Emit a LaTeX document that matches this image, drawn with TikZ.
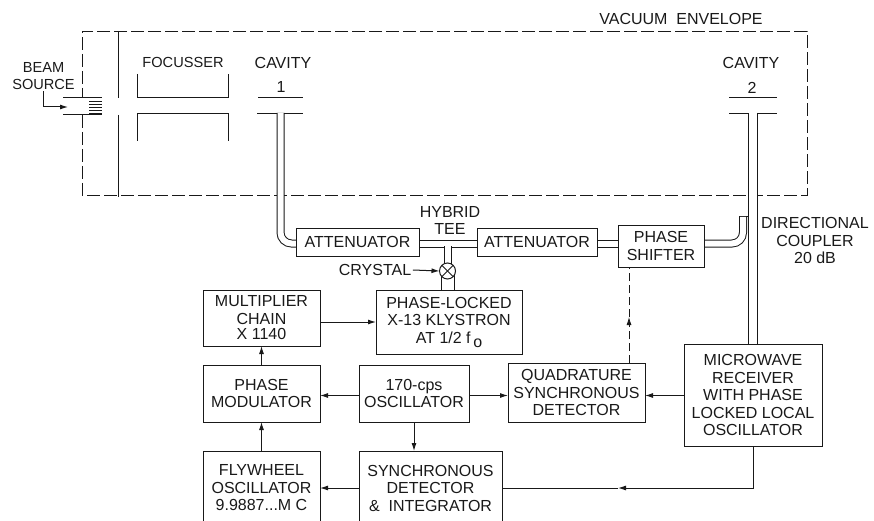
\documentclass[tikz,border=0pt]{standalone}
\usepackage{fontspec}
\setmainfont{Liberation Sans}
\usepackage{tikz}
\usetikzlibrary{arrows.meta,positioning,backgrounds}
\definecolor{ink}{RGB}{25,25,25}
\tikzset{
  block/.style={draw=ink,line width=1pt,outer sep=0pt,inner sep=1pt,align=center,text=ink},
  label/.style={inner sep=1.5pt,align=center,text=ink},
  narrow/.style={font=\fontsize{14.6}{17}\selectfont},
  wire/.style={draw=ink,line width=1pt},
  sig/.style={wire,-{Latex[length=8pt,width=5pt]}},
  guide/.style={draw=ink,line width=1pt,double=white,double distance=6pt},
}
\begin{document}
\begin{tikzpicture}[x=1pt,y=-1pt,every node/.style={font=\fontsize{16}{17.5}\selectfont}]
  \useasboundingbox (0,0) rectangle (874,521);
  \clip (0,0) rectangle (874,521);
  % junction points of the waveguide run
  \coordinate (tee) at (447.5,243.5);
  \coordinate (cav1) at (280.5,113);
  \coordinate (cav2) at (752.5,113);
  \coordinate (coup) at (743,217);
  \coordinate (sigy) at (0,395.5);
  \coordinate (lockmark) at (618,488);
  \coordinate (dashmark) at (629,317);
  \coordinate (beamtip) at (68,107);
  % upper row
  \node[block,minimum width=123pt,minimum height=28pt] (att1) at (357.5,242) {ATTENUATOR};
  \node[block,minimum width=120pt,minimum height=28pt,right=58pt of att1] (att2) {ATTENUATOR};
  \node[block,minimum width=86pt,minimum height=42pt,right=21pt of att2,yshift=-4pt] (shifter) {PHASE\\SHIFTER};
  \node[block,fill=white,circle,minimum size=16pt,inner sep=0pt,path picture={
    \draw[wire] (path picture bounding box.north west) -- (path picture bounding box.south east);
    \draw[wire] (path picture bounding box.north east) -- (path picture bounding box.south west);
  }] (xtal) at (447.5,271) {};
  % lower blocks
  \node[block,minimum width=117pt,minimum height=56pt] (mult) at (261.5,318) {MULTIPLIER\\CHAIN\\[-2pt]X 1140};
  \node[block,minimum width=146pt,minimum height=64pt,right=56pt of mult,yshift=-4pt] (klys) {PHASE-LOCKED\\X-13 KLYSTRON\\AT 1/2 f\,\raisebox{-4pt}{o}};
  \node[block,minimum width=117pt,minimum height=57pt,below=19pt of mult] (pmod) {PHASE\\MODULATOR};
  \node[block,minimum width=110pt,minimum height=57pt,right=39pt of pmod] (osc) {170-cps\\OSCILLATOR};
  \node[block,minimum width=137pt,minimum height=59pt,right=39pt of osc,yshift=1pt] (quad) {QUADRATURE\\SYNCHRONOUS\\DETECTOR};
  \node[block,minimum width=138pt,minimum height=102pt,right=39pt of quad,yshift=-2.5pt] (rx) {MICROWAVE\\RECEIVER\\WITH PHASE\\LOCKED LOCAL\\OSCILLATOR};
  \node[block,minimum width=117pt,minimum height=74pt,below=29pt of pmod] (fly) {FLYWHEEL\\OSCILLATOR\\9.9887...M C};
  \node[block,minimum width=143pt,minimum height=74pt,right=39pt of fly] (sync) {SYNCHRONOUS\\DETECTOR\\\&\ \ INTEGRATOR};
  % free labels
  \node[label] (vac) at (681,19) {VACUUM\ \ ENVELOPE};
  \node[label,narrow] (beam) at (43.5,76) {BEAM\\SOURCE};
  \node[label,narrow] (focus) at (183,62) {FOCUSSER};
  \node[label] (cavlab1) at (283,63) {CAVITY};
  \node[label] (one) at (281,87) {1};
  \node[label] (cavlab2) at (751,63) {CAVITY};
  \node[label] (two) at (752,88) {2};
  \node[label] (hybrid) at (450,220.5) {HYBRID\\TEE};
  \node[label] (crystal) at (375,270) {CRYSTAL};
  \node[label] (dircoup) at (815,240.5) {DIRECTIONAL\\COUPLER\\20 dB};
  \begin{scope}[on background layer]
    % envelope, slit plate and beam tube
    \draw[wire,line width=0.8pt,dash pattern=on 13pt off 4pt] (82,115) -- (82,195) -- (807,195) -- (807,31) -- (82,31) -- (82,98);
    \draw[wire] (118,31) -- (118,98);
    \draw[wire] (118,115) -- (118,197);
    \draw[wire] (63,98) -- (102,98);
    \draw[wire] (63,115) -- (102,115);
    \foreach \yy in {101,104,107,110,113} {
      \draw[wire,line width=0.8pt] (89,\yy) -- (102,\yy);
    }
    % focusser
    \draw[wire] (137,74) -- (137,98) -- (228,98) -- (228,74);
    \draw[wire] (137,141) -- (137,114) -- (228,114) -- (228,141);
    % cavities
    \draw[wire] (258,98) -- (303,98);
    \draw[wire] (257,113.5) -- (303,113.5);
    \draw[wire] (729,98) -- (777,98);
    \draw[wire] (729,113.5) -- (777,113.5);
    % waveguides
    \draw[guide] (att1.east|-tee) -- (att2.west|-tee);
    \draw[guide] (att2.east|-tee) -- (shifter.west|-tee);
    \draw[guide] ([yshift=-2.5pt]tee) -- (xtal.center);
    \draw[guide,double distance=12pt] (xtal.center) -- (xtal.center|-klys.north);
    \draw[guide,rounded corners=11pt] (cav1) |- (att1.west|-tee);
    \draw[wire] ([xshift=-4pt]coup) -- (coup-|cav2);
    \draw[guide,rounded corners=11pt] (shifter.east|-tee) -| (coup);
    \draw[guide,double distance=8pt] (cav2) -- (cav2|-rx.north);
  \end{scope}
  % signal paths
  \draw[sig] (beam.south) |- (beamtip);
  \draw[sig] (crystal.east) -- (xtal.west);
  \draw[sig] (mult.east|-klys.west) -- (klys.west);
  \draw[sig] (pmod.north) -- (mult.south);
  \draw[sig] (fly.north) -- (pmod.south);
  \draw[sig] (osc.west|-sigy) -- (pmod.east|-sigy);
  \draw[sig] (osc.east|-sigy) -- (quad.west|-sigy);
  \draw[sig] (rx.west|-sigy) -- (quad.east|-sigy);
  \draw[sig] (osc.south) -- (osc.south|-sync.north);
  \draw[sig] (sync.west) -- (fly.east);
  \draw[sig] (rx.south) |- (lockmark);
  \draw[wire] (lockmark) -- (sync.east|-lockmark);
  \draw[sig,dash pattern=on 8pt off 4pt,line width=0.8pt] (quad.north-|dashmark) -- (dashmark);
  \draw[wire,dash pattern=on 8pt off 4pt,line width=0.8pt] (dashmark) -- (shifter.south-|dashmark);
\end{tikzpicture}
\end{document}
